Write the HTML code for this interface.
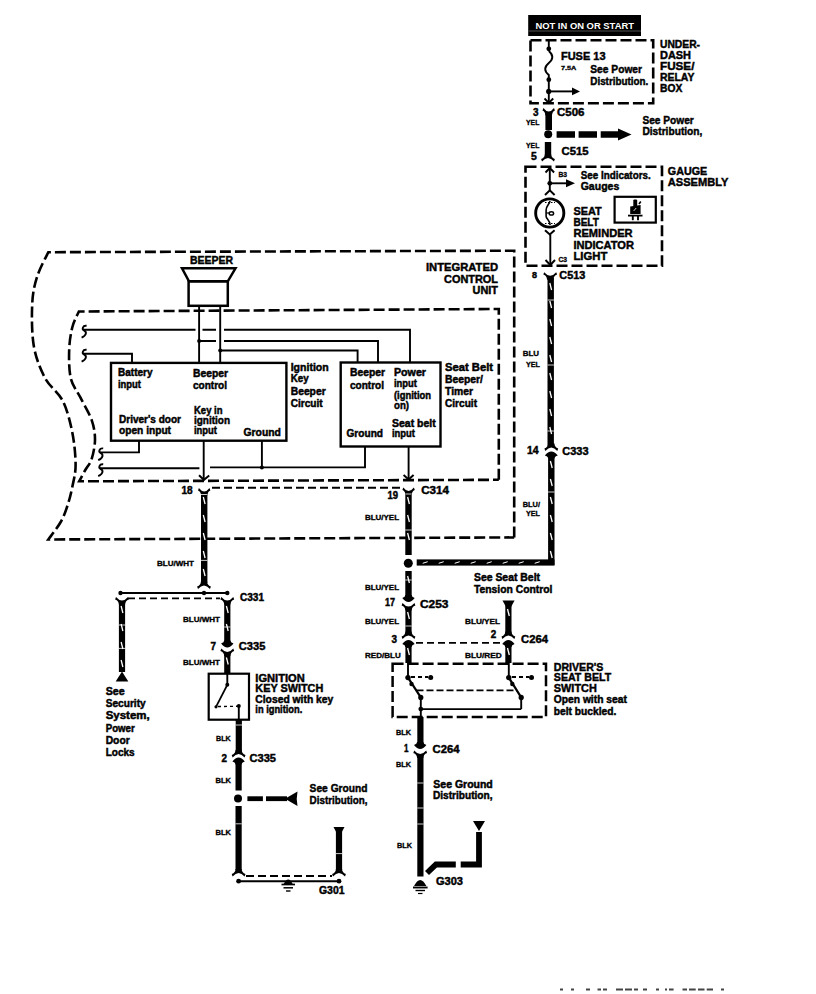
<!DOCTYPE html><html><head><meta charset="utf-8"><style>html,body{margin:0;padding:0;background:#fff;width:816px;height:994px;overflow:hidden}svg{display:block}</style></head><body>
<svg width="816" height="994" viewBox="0 0 816 994" font-family='"Liberation Sans", sans-serif'>
<rect width="816" height="994" fill="#fff"/>
<rect x="528.2" y="15" width="112.8" height="21" stroke="#000" stroke-width="0" fill="#000"/>
<line x1="528.2" y1="31" x2="641" y2="31" stroke="#000" stroke-width="0.6" stroke-linecap="butt"/>
<line x1="528.2" y1="31" x2="641" y2="31" stroke="#777" stroke-width="0.7"/>
<text x="535.4" y="29" font-size="9.5" font-weight="bold" textLength="98.6" lengthAdjust="spacingAndGlyphs" fill="#fff">NOT IN ON OR START</text>
<rect x="530.5" y="40.2" width="122.7" height="63" stroke="#000" stroke-width="2.6" fill="none" stroke-dasharray="11 4"/>
<text x="660" y="47.7" font-size="11" font-weight="bold" textLength="40" lengthAdjust="spacingAndGlyphs" stroke="#000" stroke-width="0.45">UNDER-</text>
<text x="660" y="58.8" font-size="11" font-weight="bold" textLength="31" lengthAdjust="spacingAndGlyphs" stroke="#000" stroke-width="0.45">DASH</text>
<text x="660" y="69.8" font-size="11" font-weight="bold" textLength="34.4" lengthAdjust="spacingAndGlyphs" stroke="#000" stroke-width="0.45">FUSE/</text>
<text x="660" y="80.8" font-size="11" font-weight="bold" textLength="34.4" lengthAdjust="spacingAndGlyphs" stroke="#000" stroke-width="0.45">RELAY</text>
<text x="660" y="92.3" font-size="11" font-weight="bold" textLength="22.3" lengthAdjust="spacingAndGlyphs" stroke="#000" stroke-width="0.45">BOX</text>
<line x1="548.8" y1="40" x2="548.8" y2="51" stroke="#000" stroke-width="1.9" stroke-linecap="butt"/>
<path d="M548.8 51 C553.5 55 553.5 59 548.8 63 C544 67 544 71 548.8 75 L548.8 103" stroke="#000" stroke-width="1.9" fill="none"/>
<circle cx="548.8" cy="48.8" r="2.4" fill="#000"/>
<circle cx="548.8" cy="79.7" r="2.4" fill="#000"/>
<circle cx="548.7" cy="91.4" r="2.6" fill="#000"/>
<line x1="548.8" y1="91.4" x2="573" y2="91.4" stroke="#000" stroke-width="1.9" stroke-linecap="butt"/>
<path d="M572 87.6 L580 91.4 L572 95.2 Z" fill="#000"/>
<path d="M544.5 98.5 L548.8 103 L553.2 98.5" stroke="#000" stroke-width="1.9" fill="none"/>
<text x="561" y="60.3" font-size="11" font-weight="bold" textLength="44.5" lengthAdjust="spacingAndGlyphs" stroke="#000" stroke-width="0.45">FUSE 13</text>
<text x="561" y="69.8" font-size="6" font-weight="bold" textLength="15.4" lengthAdjust="spacingAndGlyphs" stroke="#000" stroke-width="0.3">7.5A</text>
<text x="590.3" y="73" font-size="11" font-weight="bold" textLength="51.7" lengthAdjust="spacingAndGlyphs" stroke="#000" stroke-width="0.45">See Power</text>
<text x="590.3" y="85" font-size="11" font-weight="bold" textLength="58" lengthAdjust="spacingAndGlyphs" stroke="#000" stroke-width="0.45">Distribution.</text>
<path d="M543.4000000000001 108 Q548.7 115 554.0 108 L554.9 110.4 Q552.0 111.8 552.0 115.5 L545.4000000000001 115.5 Q545.4000000000001 111.8 542.5000000000001 110.4 Z" fill="#000"/>
<rect x="545.4000000000001" y="113" width="6.6" height="17" fill="#000"/>
<text x="533" y="116" font-size="10" font-weight="bold" textLength="5.5" lengthAdjust="spacingAndGlyphs" stroke="#000" stroke-width="0.45">3</text>
<text x="557" y="116" font-size="11" font-weight="bold" textLength="27.5" lengthAdjust="spacingAndGlyphs" stroke="#000" stroke-width="0.45">C506</text>
<text x="526" y="124.5" font-size="7" font-weight="bold" textLength="13.4" lengthAdjust="spacingAndGlyphs" stroke="#000" stroke-width="0.3">YEL</text>
<circle cx="548.2" cy="134.3" r="4" fill="#000"/>
<rect x="556.6" y="131.25" width="18.399999999999977" height="6.5" fill="#000"/>
<rect x="578.6" y="131.25" width="18.399999999999977" height="6.5" fill="#000"/>
<rect x="600.7" y="131.25" width="18.299999999999955" height="6.5" fill="#000"/>
<path d="M618 128.5 L631.5 134.5 L618 140.5 Z" fill="#000"/>
<text x="642.4" y="124.4" font-size="11.5" font-weight="bold" textLength="51.4" lengthAdjust="spacingAndGlyphs" stroke="#000" stroke-width="0.45">See Power</text>
<text x="642.4" y="134.8" font-size="11.5" font-weight="bold" textLength="60" lengthAdjust="spacingAndGlyphs" stroke="#000" stroke-width="0.45">Distribution,</text>
<rect x="544.8" y="142" width="6.4" height="14" fill="#000"/>
<path d="M542 161.5 Q548 154.5 554 161.5 L554.9 159.1 Q551.1 157.7 551.1 154.0 L544.9 154.0 Q544.9 157.7 541.1 159.1 Z" fill="#000"/>
<text x="526" y="148.4" font-size="7" font-weight="bold" textLength="13.4" lengthAdjust="spacingAndGlyphs" stroke="#000" stroke-width="0.3">YEL</text>
<text x="531" y="160" font-size="11" font-weight="bold" textLength="5.8" lengthAdjust="spacingAndGlyphs" stroke="#000" stroke-width="0.45">5</text>
<text x="561.5" y="154.5" font-size="11" font-weight="bold" textLength="27" lengthAdjust="spacingAndGlyphs" stroke="#000" stroke-width="0.45">C515</text>
<rect x="525.5" y="166.8" width="136.5" height="99" stroke="#000" stroke-width="2.6" fill="none" stroke-dasharray="11 4"/>
<text x="667.8" y="175.2" font-size="11.5" font-weight="bold" textLength="39.5" lengthAdjust="spacingAndGlyphs" stroke="#000" stroke-width="0.45">GAUGE</text>
<text x="667.8" y="185.7" font-size="11.5" font-weight="bold" textLength="60.6" lengthAdjust="spacingAndGlyphs" stroke="#000" stroke-width="0.45">ASSEMBLY</text>
<path d="M545.5 172.5 L549.8 168 L554.1 172.5" stroke="#000" stroke-width="1.9" fill="none"/>
<line x1="549.8" y1="168" x2="549.8" y2="191" stroke="#000" stroke-width="1.9" stroke-linecap="butt"/>
<circle cx="549.8" cy="183.3" r="2.4" fill="#000"/>
<line x1="549.8" y1="183.3" x2="567" y2="183.3" stroke="#000" stroke-width="1.9" stroke-linecap="butt"/>
<path d="M566 179.3 L575 183.3 L566 187.3 Z" fill="#000"/>
<path d="M545 195 L549.8 190.3 L554.6 195" stroke="#000" stroke-width="2" fill="none"/>
<text x="558.4" y="177" font-size="7" font-weight="bold" textLength="8.6" lengthAdjust="spacingAndGlyphs" stroke="#000" stroke-width="0.3">B3</text>
<text x="580.7" y="179" font-size="11.5" font-weight="bold" textLength="70" lengthAdjust="spacingAndGlyphs" stroke="#000" stroke-width="0.45">See Indicators.</text>
<text x="580.7" y="189.5" font-size="11.5" font-weight="bold" textLength="38.6" lengthAdjust="spacingAndGlyphs" stroke="#000" stroke-width="0.45">Gauges</text>
<circle cx="549.75" cy="213" r="14.1" stroke="#000" stroke-width="2.9" fill="none"/>
<path d="M550.1 201 C549 205 546 206 546.1 210.1 L546.1 216.2 C546 219 550 220 550.1 225" stroke="#000" stroke-width="1.6" fill="none"/>
<ellipse cx="551.4" cy="213.4" rx="2.2" ry="1.7" stroke="#000" stroke-width="1.5" fill="none"/>
<path d="M546.3 213 L549.2 213" stroke="#000" stroke-width="1.2" fill="none"/>
<path d="M545 202.5 L555 202.5 M545 223.5 L555 223.5" stroke="#000" stroke-width="1.2" fill="none" stroke-dasharray="1.5 1.5"/>
<path d="M545 230.3 L549.8 234.5 L554.6 230.3" stroke="#000" stroke-width="2" fill="none"/>
<line x1="550.3" y1="234.5" x2="550.3" y2="265" stroke="#000" stroke-width="1.9" stroke-linecap="butt"/>
<path d="M545.5 260 L550.3 265 L555 260" stroke="#000" stroke-width="1.9" fill="none"/>
<text x="558.4" y="262" font-size="7" font-weight="bold" textLength="8.6" lengthAdjust="spacingAndGlyphs" stroke="#000" stroke-width="0.3">C3</text>
<text x="573.4" y="214.7" font-size="11.5" font-weight="bold" textLength="28.2" lengthAdjust="spacingAndGlyphs" stroke="#000" stroke-width="0.45">SEAT</text>
<text x="573.4" y="226" font-size="11.5" font-weight="bold" textLength="25.5" lengthAdjust="spacingAndGlyphs" stroke="#000" stroke-width="0.45">BELT</text>
<text x="573.4" y="237.2" font-size="11.5" font-weight="bold" textLength="59.2" lengthAdjust="spacingAndGlyphs" stroke="#000" stroke-width="0.45">REMINDER</text>
<text x="573.4" y="248.5" font-size="11.5" font-weight="bold" textLength="60.6" lengthAdjust="spacingAndGlyphs" stroke="#000" stroke-width="0.45">INDICATOR</text>
<text x="573.4" y="259.8" font-size="11.5" font-weight="bold" textLength="34" lengthAdjust="spacingAndGlyphs" stroke="#000" stroke-width="0.45">LIGHT</text>
<rect x="614.6" y="196.8" width="41.2" height="25.8" stroke="#000" stroke-width="2.2" fill="none"/>
<rect x="633.3" y="199.4" width="3.9" height="7" rx="1.2" fill="#000"/>
<path d="M630.2 206.5 L640.6 205 L640.6 214 L630.2 214 Z" stroke="#000" stroke-width="0" fill="#000"/>
<line x1="639" y1="204" x2="640.8" y2="201.5" stroke="#000" stroke-width="1.6" stroke-linecap="butt"/>
<line x1="633.6" y1="211" x2="636.2" y2="208" stroke="#fff" stroke-width="0.8"/>
<line x1="628" y1="215.6" x2="642.5" y2="215.6" stroke="#000" stroke-width="1.8" stroke-linecap="butt"/>
<line x1="632.8" y1="215" x2="632.8" y2="220.2" stroke="#000" stroke-width="1.9" stroke-linecap="butt"/>
<line x1="638" y1="215" x2="638" y2="220.2" stroke="#000" stroke-width="1.9" stroke-linecap="butt"/>
<path d="M544.2 272.2 Q550.2 279.2 556.2 272.2 L557.1 274.59999999999997 Q553.4000000000001 276.0 553.4000000000001 279.7 L547.0 279.7 Q547.0 276.0 543.3000000000001 274.59999999999997 Z" fill="#000"/>
<text x="532" y="277.5" font-size="9" font-weight="bold" textLength="5" lengthAdjust="spacingAndGlyphs" stroke="#000" stroke-width="0.45">8</text>
<text x="559.3" y="279" font-size="11" font-weight="bold" textLength="26" lengthAdjust="spacingAndGlyphs" stroke="#000" stroke-width="0.45">C513</text>
<rect x="547.5" y="278" width="6.4" height="168" fill="#000"/>
<line x1="549.8000000000001" y1="283" x2="551.6" y2="290" stroke="#fff" stroke-width="1.3"/>
<line x1="549.8000000000001" y1="301" x2="551.6" y2="308" stroke="#fff" stroke-width="1.3"/>
<line x1="549.8000000000001" y1="319" x2="551.6" y2="326" stroke="#fff" stroke-width="1.3"/>
<line x1="549.8000000000001" y1="337" x2="551.6" y2="344" stroke="#fff" stroke-width="1.3"/>
<line x1="549.8000000000001" y1="355" x2="551.6" y2="362" stroke="#fff" stroke-width="1.3"/>
<line x1="549.8000000000001" y1="373" x2="551.6" y2="380" stroke="#fff" stroke-width="1.3"/>
<line x1="549.8000000000001" y1="391" x2="551.6" y2="398" stroke="#fff" stroke-width="1.3"/>
<line x1="549.8000000000001" y1="409" x2="551.6" y2="416" stroke="#fff" stroke-width="1.3"/>
<line x1="549.8000000000001" y1="427" x2="551.6" y2="434" stroke="#fff" stroke-width="1.3"/>
<line x1="547.5" y1="300" x2="553.9000000000001" y2="300" stroke="#fff" stroke-width="0.8"/>
<line x1="547.5" y1="365" x2="553.9000000000001" y2="365" stroke="#fff" stroke-width="0.8"/>
<line x1="547.5" y1="431" x2="553.9000000000001" y2="431" stroke="#fff" stroke-width="0.8"/>
<path d="M545.3 451 Q551.3 444 557.3 451 L558.1999999999999 448.6 Q554.5 447.2 554.5 443.5 L548.0999999999999 443.5 Q548.0999999999999 447.2 544.4 448.6 Z" fill="#000"/>
<path d="M548.0999999999999 458.5 Q548.0999999999999 456.5 544.8 455.5 Q551.3 447.5 557.8 455.5 Q554.5 456.5 554.5 458.5 Z" fill="#000"/>
<rect x="548.0999999999999" y="456" width="6.4" height="109" fill="#000"/>
<line x1="550.4" y1="461" x2="552.1999999999999" y2="468" stroke="#fff" stroke-width="1.3"/>
<line x1="550.4" y1="479" x2="552.1999999999999" y2="486" stroke="#fff" stroke-width="1.3"/>
<line x1="550.4" y1="497" x2="552.1999999999999" y2="504" stroke="#fff" stroke-width="1.3"/>
<line x1="550.4" y1="515" x2="552.1999999999999" y2="522" stroke="#fff" stroke-width="1.3"/>
<line x1="550.4" y1="533" x2="552.1999999999999" y2="540" stroke="#fff" stroke-width="1.3"/>
<line x1="550.4" y1="551" x2="552.1999999999999" y2="558" stroke="#fff" stroke-width="1.3"/>
<line x1="548.0999999999999" y1="492" x2="554.5" y2="492" stroke="#fff" stroke-width="0.8"/>
<text x="527" y="454.4" font-size="10.5" font-weight="bold" textLength="11.7" lengthAdjust="spacingAndGlyphs" stroke="#000" stroke-width="0.45">14</text>
<text x="562.3" y="455.3" font-size="11" font-weight="bold" textLength="26.2" lengthAdjust="spacingAndGlyphs" stroke="#000" stroke-width="0.45">C333</text>
<text x="522.7" y="355.7" font-size="7" font-weight="bold" textLength="16.3" lengthAdjust="spacingAndGlyphs" stroke="#000" stroke-width="0.3">BLU</text>
<text x="526" y="366.7" font-size="7" font-weight="bold" textLength="14" lengthAdjust="spacingAndGlyphs" stroke="#000" stroke-width="0.3">YEL</text>
<text x="522.7" y="507" font-size="7" font-weight="bold" textLength="17.3" lengthAdjust="spacingAndGlyphs" stroke="#000" stroke-width="0.3">BLU/</text>
<text x="526" y="516.3" font-size="7" font-weight="bold" textLength="14" lengthAdjust="spacingAndGlyphs" stroke="#000" stroke-width="0.3">YEL</text>
<rect x="416.7" y="559.4" width="137.8" height="6.2" fill="#000"/>
<line x1="422.7" y1="563.3" x2="427.7" y2="561.7" stroke="#fff" stroke-width="1"/>
<line x1="438.7" y1="563.3" x2="443.7" y2="561.7" stroke="#fff" stroke-width="1"/>
<line x1="454.7" y1="563.3" x2="459.7" y2="561.7" stroke="#fff" stroke-width="1"/>
<line x1="470.7" y1="563.3" x2="475.7" y2="561.7" stroke="#fff" stroke-width="1"/>
<line x1="486.7" y1="563.3" x2="491.7" y2="561.7" stroke="#fff" stroke-width="1"/>
<line x1="502.7" y1="563.3" x2="507.7" y2="561.7" stroke="#fff" stroke-width="1"/>
<line x1="518.7" y1="563.3" x2="523.7" y2="561.7" stroke="#fff" stroke-width="1"/>
<line x1="534.7" y1="563.3" x2="539.7" y2="561.7" stroke="#fff" stroke-width="1"/>
<path d="M514.2 537.4 L514.2 250.7 L48.3 252.2  C46.4 256.3 39.7 268.3 37 277 C34.3 285.7 32.7 292.9 32.2 304.4 C31.7 315.9 31.7 333.7 33.8 346 C35.9 358.3 40.2 368.8 45 378 C49.8 387.2 58.2 391.8 62.8 401 C67.4 410.2 70.3 422.3 72.4 433 C74.5 443.7 75.6 456.2 75.6 465 C75.6 473.8 73.8 479.5 72.5 486 C71.2 492.5 69.9 498.1 68 504 C66.1 509.9 64.3 515.6 61 521.5 C57.7 527.4 50.4 536.5 48.3 539.5 L514.2 537.4" stroke="#000" stroke-width="2.6" fill="none" stroke-dasharray="11 4"/>
<text x="498" y="271.4" font-size="11" font-weight="bold" textLength="72" lengthAdjust="spacingAndGlyphs" text-anchor="end" stroke="#000" stroke-width="0.45">INTEGRATED</text>
<text x="498" y="282.6" font-size="11" font-weight="bold" textLength="54" lengthAdjust="spacingAndGlyphs" text-anchor="end" stroke="#000" stroke-width="0.45">CONTROL</text>
<text x="498" y="293.7" font-size="11" font-weight="bold" textLength="25.4" lengthAdjust="spacingAndGlyphs" text-anchor="end" stroke="#000" stroke-width="0.45">UNIT</text>
<path d="M498.8 479.8 L498.8 309 L78.9 311.5  C77.8 314.1 74.0 320.7 72.4 327 C70.8 333.3 69.5 340.8 69.2 349.4 C68.9 358.0 68.9 370.3 70.8 378.4 C72.7 386.4 77.0 390.7 80.5 397.7 C84.0 404.7 89.3 413.2 91.7 420.2 C94.1 427.2 95.0 433.1 95 439.5 C95.0 445.9 93.3 453.8 91.7 458.9 C90.1 464.0 87.4 466.3 85.3 470 C83.2 473.7 80.2 479.4 79.2 481.3 L498.8 479.8" stroke="#000" stroke-width="2.6" fill="none" stroke-dasharray="11 4"/>
<text x="190" y="263.6" font-size="11" font-weight="bold" textLength="43" lengthAdjust="spacingAndGlyphs" stroke="#000" stroke-width="0.45">BEEPER</text>
<path d="M182 268.3 L235.5 268.3 L227.8 281.3 L189 281.3 Z" stroke="#000" stroke-width="2.5" fill="none"/>
<rect x="188.6" y="281.3" width="39.2" height="24.5" stroke="#000" stroke-width="2.5" fill="none"/>
<line x1="199.1" y1="306" x2="199.1" y2="363" stroke="#000" stroke-width="1.9" stroke-linecap="butt"/>
<line x1="220.2" y1="306" x2="220.2" y2="363" stroke="#000" stroke-width="1.9" stroke-linecap="butt"/>
<path d="M86.60000000000001 325.8 C82.4 325.3 81.9 329.3 83.9 330.3 C86.9 331.8 86.9 335.3 81.60000000000001 337.6" stroke="#000" stroke-width="1.9" fill="none"/>
<path d="M86.60000000000001 349.8 C82.4 349.3 81.9 353.3 83.9 354.3 C86.9 355.8 86.9 359.3 81.60000000000001 361.6" stroke="#000" stroke-width="1.9" fill="none"/>
<path d="M103.2 448.4 C99 447.9 98.5 451.9 100.5 452.9 C103.5 454.4 103.5 457.9 98.2 460.2" stroke="#000" stroke-width="1.9" fill="none"/>
<path d="M103.2 464.3 C99 463.8 98.5 467.8 100.5 468.8 C103.5 470.3 103.5 473.8 98.2 476.1" stroke="#000" stroke-width="1.9" fill="none"/>
<path d="M83.4 329.8 L195.5 329.8 M202.5 329.8 L216 329.8 M224 329.8 L410 329.8 L410 362" stroke="#000" stroke-width="1.9" fill="none"/>
<path d="M199.1 341 L216 341 M224 341 L378 341 L378 362" stroke="#000" stroke-width="1.9" fill="none"/>
<circle cx="199.1" cy="341" r="2" fill="#000"/>
<path d="M220.2 350.5 L357.6 350.5 L357.6 362" stroke="#000" stroke-width="1.9" fill="none"/>
<circle cx="220.2" cy="350.5" r="2" fill="#000"/>
<path d="M83.4 353.8 L132 353.8 L132 363" stroke="#000" stroke-width="1.9" fill="none"/>
<rect x="111" y="362.9" width="175.4" height="77.8" stroke="#000" stroke-width="2.4" fill="none"/>
<text x="118" y="375.5" font-size="10" font-weight="bold" textLength="34.5" lengthAdjust="spacingAndGlyphs" stroke="#000" stroke-width="0.45">Battery</text>
<text x="118" y="387.5" font-size="10" font-weight="bold" textLength="23" lengthAdjust="spacingAndGlyphs" stroke="#000" stroke-width="0.45">input</text>
<text x="193" y="377" font-size="10" font-weight="bold" textLength="35" lengthAdjust="spacingAndGlyphs" stroke="#000" stroke-width="0.45">Beeper</text>
<text x="193" y="388.6" font-size="10" font-weight="bold" textLength="34" lengthAdjust="spacingAndGlyphs" stroke="#000" stroke-width="0.45">control</text>
<text x="194" y="413.5" font-size="10" font-weight="bold" textLength="28.5" lengthAdjust="spacingAndGlyphs" stroke="#000" stroke-width="0.45">Key in</text>
<text x="194" y="423.5" font-size="10" font-weight="bold" textLength="36" lengthAdjust="spacingAndGlyphs" stroke="#000" stroke-width="0.45">ignition</text>
<text x="194" y="434" font-size="10" font-weight="bold" textLength="23" lengthAdjust="spacingAndGlyphs" stroke="#000" stroke-width="0.45">input</text>
<text x="119" y="423.3" font-size="10" font-weight="bold" textLength="62" lengthAdjust="spacingAndGlyphs" stroke="#000" stroke-width="0.45">Driver's door</text>
<text x="119" y="433.5" font-size="10" font-weight="bold" textLength="52" lengthAdjust="spacingAndGlyphs" stroke="#000" stroke-width="0.45">open input</text>
<text x="243.5" y="436.4" font-size="10" font-weight="bold" textLength="37.4" lengthAdjust="spacingAndGlyphs" stroke="#000" stroke-width="0.45">Ground</text>
<text x="290.7" y="370.5" font-size="10" font-weight="bold" textLength="38" lengthAdjust="spacingAndGlyphs" stroke="#000" stroke-width="0.45">Ignition</text>
<text x="290.7" y="382" font-size="10" font-weight="bold" textLength="18" lengthAdjust="spacingAndGlyphs" stroke="#000" stroke-width="0.45">Key</text>
<text x="290.7" y="394.7" font-size="10" font-weight="bold" textLength="35" lengthAdjust="spacingAndGlyphs" stroke="#000" stroke-width="0.45">Beeper</text>
<text x="290.7" y="407" font-size="10" font-weight="bold" textLength="32" lengthAdjust="spacingAndGlyphs" stroke="#000" stroke-width="0.45">Circuit</text>
<rect x="340.7" y="362.5" width="99.8" height="84" stroke="#000" stroke-width="2.4" fill="none"/>
<text x="350" y="375.5" font-size="10" font-weight="bold" textLength="35" lengthAdjust="spacingAndGlyphs" stroke="#000" stroke-width="0.45">Beeper</text>
<text x="350" y="388.5" font-size="10" font-weight="bold" textLength="34" lengthAdjust="spacingAndGlyphs" stroke="#000" stroke-width="0.45">control</text>
<text x="394" y="376" font-size="10" font-weight="bold" textLength="32" lengthAdjust="spacingAndGlyphs" stroke="#000" stroke-width="0.45">Power</text>
<text x="394" y="387" font-size="10" font-weight="bold" textLength="23" lengthAdjust="spacingAndGlyphs" stroke="#000" stroke-width="0.45">input</text>
<text x="394" y="398.5" font-size="10" font-weight="bold" textLength="37" lengthAdjust="spacingAndGlyphs" stroke="#000" stroke-width="0.45">(ignition</text>
<text x="394" y="409" font-size="10" font-weight="bold" textLength="15" lengthAdjust="spacingAndGlyphs" stroke="#000" stroke-width="0.45">on)</text>
<text x="392" y="426.5" font-size="10" font-weight="bold" textLength="43.7" lengthAdjust="spacingAndGlyphs" stroke="#000" stroke-width="0.45">Seat belt</text>
<text x="392" y="436.5" font-size="10" font-weight="bold" textLength="23" lengthAdjust="spacingAndGlyphs" stroke="#000" stroke-width="0.45">input</text>
<text x="346.5" y="437.3" font-size="10" font-weight="bold" textLength="36.5" lengthAdjust="spacingAndGlyphs" stroke="#000" stroke-width="0.45">Ground</text>
<text x="445" y="371" font-size="10" font-weight="bold" textLength="48" lengthAdjust="spacingAndGlyphs" stroke="#000" stroke-width="0.45">Seat Belt</text>
<text x="445" y="383" font-size="10" font-weight="bold" textLength="38" lengthAdjust="spacingAndGlyphs" stroke="#000" stroke-width="0.45">Beeper/</text>
<text x="445" y="395" font-size="10" font-weight="bold" textLength="28" lengthAdjust="spacingAndGlyphs" stroke="#000" stroke-width="0.45">Timer</text>
<text x="445" y="407" font-size="10" font-weight="bold" textLength="32" lengthAdjust="spacingAndGlyphs" stroke="#000" stroke-width="0.45">Circuit</text>
<path d="M139 440.7 L139 452.4 L100 452.4" stroke="#000" stroke-width="1.9" fill="none"/>
<path d="M100 468.3 L199.4 468.3" stroke="#000" stroke-width="1.9" fill="none"/>
<path d="M210 467.4 L365 467.4 L365 446.5" stroke="#000" stroke-width="1.9" fill="none"/>
<line x1="203.7" y1="440.7" x2="203.7" y2="480" stroke="#000" stroke-width="1.9" stroke-linecap="butt"/>
<line x1="261.9" y1="440.7" x2="261.9" y2="467.4" stroke="#000" stroke-width="1.9" stroke-linecap="butt"/>
<circle cx="261.9" cy="467.4" r="2" fill="#000"/>
<path d="M199 475.2 L203.9 479.8 L209.2 475.5" stroke="#000" stroke-width="2" fill="none"/>
<line x1="408.6" y1="446.5" x2="408.6" y2="480" stroke="#000" stroke-width="1.9" stroke-linecap="butt"/>
<path d="M403.6 475 L408.6 479.5 L413.6 475" stroke="#000" stroke-width="2" fill="none"/>
<line x1="212" y1="487.8" x2="403" y2="487.8" stroke="#000" stroke-width="2" stroke-dasharray="8 4" stroke-linecap="butt"/>
<text x="181.5" y="494.3" font-size="10.5" font-weight="bold" textLength="11.2" lengthAdjust="spacingAndGlyphs" stroke="#000" stroke-width="0.45">18</text>
<text x="387.5" y="499" font-size="10" font-weight="bold" textLength="10.6" lengthAdjust="spacingAndGlyphs" stroke="#000" stroke-width="0.45">19</text>
<text x="421.2" y="493.8" font-size="10.5" font-weight="bold" textLength="27.8" lengthAdjust="spacingAndGlyphs" stroke="#000" stroke-width="0.45">C314</text>
<path d="M198.89999999999998 488 Q204.2 495 209.5 488 L210.4 490.4 Q207.29999999999998 491.8 207.29999999999998 495.5 L201.1 495.5 Q201.1 491.8 197.99999999999997 490.4 Z" fill="#000"/>
<path d="M403.3 487.5 Q408.6 494.5 413.90000000000003 487.5 L414.8 489.9 Q411.70000000000005 491.3 411.70000000000005 495.0 L405.5 495.0 Q405.5 491.3 402.40000000000003 489.9 Z" fill="#000"/>
<rect x="201.0" y="492" width="6.4" height="91" fill="#000"/>
<line x1="203.29999999999998" y1="497" x2="205.1" y2="504" stroke="#fff" stroke-width="1.3"/>
<line x1="203.29999999999998" y1="515" x2="205.1" y2="522" stroke="#fff" stroke-width="1.3"/>
<line x1="203.29999999999998" y1="533" x2="205.1" y2="540" stroke="#fff" stroke-width="1.3"/>
<line x1="203.29999999999998" y1="551" x2="205.1" y2="558" stroke="#fff" stroke-width="1.3"/>
<line x1="203.29999999999998" y1="569" x2="205.1" y2="576" stroke="#fff" stroke-width="1.3"/>
<line x1="201.0" y1="494.5" x2="207.39999999999998" y2="494.5" stroke="#fff" stroke-width="0.8"/>
<line x1="201.0" y1="560.4" x2="207.39999999999998" y2="560.4" stroke="#fff" stroke-width="0.8"/>
<path d="M198 589 Q204 582 210 589 L210.9 586.6 Q207.1 585.2 207.1 581.5 L200.9 581.5 Q200.9 585.2 197.1 586.6 Z" fill="#000"/>
<text x="157" y="566" font-size="6.5" font-weight="bold" textLength="37" lengthAdjust="spacingAndGlyphs" stroke="#000" stroke-width="0.3">BLU/WHT</text>
<line x1="120.5" y1="593" x2="227.3" y2="593" stroke="#000" stroke-width="1.9" stroke-linecap="butt"/>
<circle cx="120.5" cy="593" r="2.2" fill="#000"/>
<circle cx="204" cy="593" r="2.2" fill="#000"/>
<circle cx="227.3" cy="593" r="2.2" fill="#000"/>
<line x1="128" y1="598.4" x2="220" y2="598.4" stroke="#000" stroke-width="1.8" stroke-dasharray="7 4" stroke-linecap="butt"/>
<path d="M116 597 Q122 604 128 597 L128.9 599.4 Q125.1 600.8 125.1 604.5 L118.9 604.5 Q118.9 600.8 115.1 599.4 Z" fill="#000"/>
<path d="M221.3 597 Q227.3 604 233.3 597 L234.20000000000002 599.4 Q230.4 600.8 230.4 604.5 L224.20000000000002 604.5 Q224.20000000000002 600.8 220.4 599.4 Z" fill="#000"/>
<text x="240" y="601" font-size="10" font-weight="bold" textLength="24" lengthAdjust="spacingAndGlyphs" stroke="#000" stroke-width="0.45">C331</text>
<rect x="118.9" y="601" width="6.2" height="71" fill="#000"/>
<line x1="121.1" y1="606" x2="122.9" y2="613" stroke="#fff" stroke-width="1.3"/>
<line x1="121.1" y1="624" x2="122.9" y2="631" stroke="#fff" stroke-width="1.3"/>
<line x1="121.1" y1="642" x2="122.9" y2="649" stroke="#fff" stroke-width="1.3"/>
<line x1="121.1" y1="660" x2="122.9" y2="667" stroke="#fff" stroke-width="1.3"/>
<line x1="118.9" y1="625" x2="125.1" y2="625" stroke="#fff" stroke-width="0.8"/>
<line x1="118.9" y1="648.4" x2="125.1" y2="648.4" stroke="#fff" stroke-width="0.8"/>
<path d="M115.7 681.5 L122 671.5 L128.3 681.5 Z" fill="#000"/>
<text x="105.7" y="695.0" font-size="10" font-weight="bold" textLength="19" lengthAdjust="spacingAndGlyphs" stroke="#000" stroke-width="0.45">See</text>
<text x="105.7" y="707.2" font-size="10" font-weight="bold" textLength="40" lengthAdjust="spacingAndGlyphs" stroke="#000" stroke-width="0.45">Security</text>
<text x="105.7" y="719.4" font-size="10" font-weight="bold" textLength="44" lengthAdjust="spacingAndGlyphs" stroke="#000" stroke-width="0.45">System,</text>
<text x="105.7" y="731.6" font-size="10" font-weight="bold" textLength="29" lengthAdjust="spacingAndGlyphs" stroke="#000" stroke-width="0.45">Power</text>
<text x="105.7" y="743.8" font-size="10" font-weight="bold" textLength="24" lengthAdjust="spacingAndGlyphs" stroke="#000" stroke-width="0.45">Door</text>
<text x="105.7" y="756.0" font-size="10" font-weight="bold" textLength="29" lengthAdjust="spacingAndGlyphs" stroke="#000" stroke-width="0.45">Locks</text>
<rect x="224.20000000000002" y="601" width="6.2" height="42" fill="#000"/>
<line x1="226.4" y1="606" x2="228.20000000000002" y2="613" stroke="#fff" stroke-width="1.3"/>
<line x1="226.4" y1="624" x2="228.20000000000002" y2="631" stroke="#fff" stroke-width="1.3"/>
<line x1="224.20000000000002" y1="627" x2="230.4" y2="627" stroke="#fff" stroke-width="0.8"/>
<text x="183" y="622" font-size="6.5" font-weight="bold" textLength="37" lengthAdjust="spacingAndGlyphs" stroke="#000" stroke-width="0.3">BLU/WHT</text>
<path d="M224.20000000000002 640.5 Q224.20000000000002 642.5 221.10000000000002 643.5 Q227.3 651.5 233.5 643.5 Q230.4 642.5 230.4 640.5 Z" fill="#000"/>
<path d="M221.3 648.5 Q227.3 655.5 233.3 648.5 L234.20000000000002 650.9 Q230.4 652.3 230.4 656.0 L224.20000000000002 656.0 Q224.20000000000002 652.3 220.4 650.9 Z" fill="#000"/>
<text x="210.5" y="650" font-size="10" font-weight="bold" textLength="5.5" lengthAdjust="spacingAndGlyphs" stroke="#000" stroke-width="0.45">7</text>
<text x="238.8" y="649.7" font-size="11" font-weight="bold" textLength="26.5" lengthAdjust="spacingAndGlyphs" stroke="#000" stroke-width="0.45">C335</text>
<rect x="224.20000000000002" y="652.5" width="6.2" height="21.200000000000045" fill="#000"/>
<line x1="226.4" y1="657.5" x2="228.20000000000002" y2="664.5" stroke="#fff" stroke-width="1.3"/>
<text x="183" y="665" font-size="6.5" font-weight="bold" textLength="37" lengthAdjust="spacingAndGlyphs" stroke="#000" stroke-width="0.3">BLU/WHT</text>
<rect x="208.7" y="673.7" width="40.3" height="46" stroke="#000" stroke-width="2.2" fill="none"/>
<line x1="227.3" y1="673.7" x2="227.3" y2="684.8" stroke="#000" stroke-width="1.9" stroke-linecap="butt"/>
<circle cx="227.3" cy="684.8" r="2" fill="#000"/>
<line x1="227.3" y1="684.8" x2="216" y2="706.8" stroke="#000" stroke-width="1.8" stroke-linecap="butt"/>
<circle cx="216" cy="706.8" r="1.6" fill="#000"/>
<line x1="218" y1="706.5" x2="237" y2="706.3" stroke="#000" stroke-width="1.4" stroke-dasharray="3 3" stroke-linecap="butt"/>
<circle cx="238.8" cy="706" r="2" fill="#000"/>
<text x="255.3" y="681.5" font-size="11" font-weight="bold" textLength="49.5" lengthAdjust="spacingAndGlyphs" stroke="#000" stroke-width="0.45">IGNITION</text>
<text x="255.3" y="692.4" font-size="11" font-weight="bold" textLength="68" lengthAdjust="spacingAndGlyphs" stroke="#000" stroke-width="0.45">KEY SWITCH</text>
<text x="255.3" y="703.2" font-size="10" font-weight="bold" textLength="78" lengthAdjust="spacingAndGlyphs" stroke="#000" stroke-width="0.45">Closed with key</text>
<text x="255.3" y="713" font-size="10" font-weight="bold" textLength="47" lengthAdjust="spacingAndGlyphs" stroke="#000" stroke-width="0.45">in ignition.</text>
<line x1="238.8" y1="706" x2="238.8" y2="720" stroke="#000" stroke-width="1.9" stroke-linecap="butt"/>
<rect x="235.70000000000002" y="720" width="6.2" height="33" fill="#000"/>
<line x1="235.70000000000002" y1="725" x2="241.9" y2="725" stroke="#fff" stroke-width="0.8"/>
<text x="216" y="740.7" font-size="6.5" font-weight="bold" textLength="14.7" lengthAdjust="spacingAndGlyphs" stroke="#000" stroke-width="0.3">BLK</text>
<path d="M232.6 757.5 Q238.6 750.5 244.6 757.5 L245.5 755.1 Q241.7 753.7 241.7 750.0 L235.5 750.0 Q235.5 753.7 231.7 755.1 Z" fill="#000"/>
<path d="M235.5 764.5 Q235.5 762.5 232.4 761.5 Q238.6 753.5 244.79999999999998 761.5 Q241.7 762.5 241.7 764.5 Z" fill="#000"/>
<text x="221.5" y="762" font-size="10" font-weight="bold" textLength="5.5" lengthAdjust="spacingAndGlyphs" stroke="#000" stroke-width="0.45">2</text>
<text x="249.6" y="762" font-size="11" font-weight="bold" textLength="26.4" lengthAdjust="spacingAndGlyphs" stroke="#000" stroke-width="0.45">C335</text>
<rect x="235.5" y="763" width="6.2" height="27.5" fill="#000"/>
<text x="215.5" y="783" font-size="6.5" font-weight="bold" textLength="15.5" lengthAdjust="spacingAndGlyphs" stroke="#000" stroke-width="0.3">BLK</text>
<circle cx="238" cy="798.5" r="4" fill="#000"/>
<rect x="235.5" y="806" width="6.2" height="64" fill="#000"/>
<line x1="235.5" y1="823.8" x2="241.7" y2="823.8" stroke="#fff" stroke-width="0.8"/>
<path d="M232.6 876.5 Q238.6 869.5 244.6 876.5 L245.5 874.1 Q241.7 872.7 241.7 869.0 L235.5 869.0 Q235.5 872.7 231.7 874.1 Z" fill="#000"/>
<rect x="247.4" y="796.3000000000001" width="15.499999999999972" height="4.8" fill="#000"/>
<rect x="266" y="796.3000000000001" width="21" height="4.8" fill="#000"/>
<path d="M297.5 791.5 L285 798.7 L297.5 805.9 Q296 798.7 297.5 791.5 Z" fill="#000"/>
<text x="309.6" y="791.8" font-size="11.5" font-weight="bold" textLength="58" lengthAdjust="spacingAndGlyphs" stroke="#000" stroke-width="0.45">See Ground</text>
<text x="309.6" y="803.8" font-size="11.5" font-weight="bold" textLength="58" lengthAdjust="spacingAndGlyphs" stroke="#000" stroke-width="0.45">Distribution,</text>
<text x="215.5" y="834.5" font-size="6.5" font-weight="bold" textLength="15.5" lengthAdjust="spacingAndGlyphs" stroke="#000" stroke-width="0.3">BLK</text>
<path d="M333.5 827 L344.5 827 L339 837.5 Z" fill="#000"/>
<rect x="335.9" y="831" width="6.2" height="39" fill="#000"/>
<line x1="335.9" y1="853.6" x2="342.1" y2="853.6" stroke="#fff" stroke-width="0.8"/>
<path d="M333 876.5 Q339 869.5 345 876.5 L345.9 874.1 Q342.1 872.7 342.1 869.0 L335.9 869.0 Q335.9 872.7 332.1 874.1 Z" fill="#000"/>
<line x1="246" y1="876" x2="332" y2="876" stroke="#000" stroke-width="1.9" stroke-dasharray="8 4" stroke-linecap="butt"/>
<line x1="238.6" y1="881.2" x2="339" y2="881.2" stroke="#000" stroke-width="1.9" stroke-linecap="butt"/>
<circle cx="238.6" cy="881.2" r="2.4" fill="#000"/>
<circle cx="339" cy="881.2" r="2.4" fill="#000"/>
<path d="M283.5 884.5 Q288.2 874.5 292.9 884.5 Z" fill="#000"/>
<line x1="281.5" y1="884.5" x2="295" y2="884.5" stroke="#000" stroke-width="1.7" stroke-linecap="butt"/>
<line x1="283.5" y1="887.8" x2="293" y2="887.8" stroke="#000" stroke-width="1.5" stroke-linecap="butt"/>
<line x1="286" y1="891" x2="290.5" y2="891" stroke="#000" stroke-width="1.4" stroke-linecap="butt"/>
<text x="319" y="894.4" font-size="10.5" font-weight="bold" textLength="25.5" lengthAdjust="spacingAndGlyphs" stroke="#000" stroke-width="0.45">G301</text>
<rect x="405.3" y="492" width="6.4" height="63" fill="#000"/>
<line x1="407.6" y1="497" x2="409.4" y2="504" stroke="#fff" stroke-width="1.3"/>
<line x1="407.6" y1="515" x2="409.4" y2="522" stroke="#fff" stroke-width="1.3"/>
<line x1="407.6" y1="533" x2="409.4" y2="540" stroke="#fff" stroke-width="1.3"/>
<line x1="405.3" y1="494" x2="411.7" y2="494" stroke="#fff" stroke-width="0.8"/>
<line x1="405.3" y1="530" x2="411.7" y2="530" stroke="#fff" stroke-width="0.8"/>
<text x="365" y="519.6" font-size="6.5" font-weight="bold" textLength="34" lengthAdjust="spacingAndGlyphs" stroke="#000" stroke-width="0.3">BLU/YEL</text>
<circle cx="408.3" cy="563.3" r="4.5" fill="#000"/>
<rect x="405.3" y="571" width="6.4" height="27" fill="#000"/>
<line x1="407.6" y1="576" x2="409.4" y2="583" stroke="#fff" stroke-width="1.3"/>
<line x1="405.3" y1="580" x2="411.7" y2="580" stroke="#fff" stroke-width="0.8"/>
<text x="365" y="590" font-size="6.5" font-weight="bold" textLength="34" lengthAdjust="spacingAndGlyphs" stroke="#000" stroke-width="0.3">BLU/YEL</text>
<path d="M405.4 595 Q405.4 597 402.3 598 Q408.5 606 414.7 598 Q411.6 597 411.6 595 Z" fill="#000"/>
<path d="M402.5 603 Q408.5 610 414.5 603 L415.4 605.4 Q411.6 606.8 411.6 610.5 L405.4 610.5 Q405.4 606.8 401.6 605.4 Z" fill="#000"/>
<text x="385" y="606" font-size="10" font-weight="bold" textLength="10" lengthAdjust="spacingAndGlyphs" stroke="#000" stroke-width="0.45">17</text>
<text x="420" y="608" font-size="11" font-weight="bold" textLength="28.5" lengthAdjust="spacingAndGlyphs" stroke="#000" stroke-width="0.45">C253</text>
<rect x="405.4" y="607" width="6.2" height="28" fill="#000"/>
<line x1="407.6" y1="612" x2="409.4" y2="619" stroke="#fff" stroke-width="1.3"/>
<line x1="405.4" y1="626" x2="411.6" y2="626" stroke="#fff" stroke-width="0.8"/>
<text x="365" y="624" font-size="6.5" font-weight="bold" textLength="34" lengthAdjust="spacingAndGlyphs" stroke="#000" stroke-width="0.3">BLU/YEL</text>
<path d="M402.5 639 Q408.5 632 414.5 639 L415.4 636.6 Q411.6 635.2 411.6 631.5 L405.4 631.5 Q405.4 635.2 401.6 636.6 Z" fill="#000"/>
<path d="M405.4 647 Q405.4 645 402.3 644 Q408.5 636 414.7 644 Q411.6 645 411.6 647 Z" fill="#000"/>
<rect x="405.4" y="643" width="6.2" height="20" fill="#000"/>
<line x1="407.6" y1="648" x2="409.4" y2="655" stroke="#fff" stroke-width="1.3"/>
<text x="391.5" y="643" font-size="10" font-weight="bold" textLength="5.5" lengthAdjust="spacingAndGlyphs" stroke="#000" stroke-width="0.45">3</text>
<line x1="416" y1="642.8" x2="500" y2="642.8" stroke="#000" stroke-width="1.8" stroke-dasharray="7 4" stroke-linecap="butt"/>
<text x="365" y="658" font-size="6.5" font-weight="bold" textLength="35.7" lengthAdjust="spacingAndGlyphs" stroke="#000" stroke-width="0.3">RED/BLU</text>
<text x="474" y="581" font-size="10" font-weight="bold" textLength="66" lengthAdjust="spacingAndGlyphs" stroke="#000" stroke-width="0.45">See Seat Belt</text>
<text x="474" y="593" font-size="10" font-weight="bold" textLength="78.5" lengthAdjust="spacingAndGlyphs" stroke="#000" stroke-width="0.45">Tension Control</text>
<path d="M502.5 600.5 L514.6 600.5 L508.5 611.5 Z" fill="#000"/>
<rect x="505.29999999999995" y="604" width="6.2" height="31" fill="#000"/>
<line x1="507.5" y1="609" x2="509.29999999999995" y2="616" stroke="#fff" stroke-width="1.3"/>
<text x="465" y="624" font-size="6.5" font-weight="bold" textLength="35" lengthAdjust="spacingAndGlyphs" stroke="#000" stroke-width="0.3">BLU/YEL</text>
<path d="M502.4 639 Q508.4 632 514.4 639 L515.3 636.6 Q511.5 635.2 511.5 631.5 L505.29999999999995 631.5 Q505.29999999999995 635.2 501.5 636.6 Z" fill="#000"/>
<path d="M505.29999999999995 647 Q505.29999999999995 645 502.2 644 Q508.4 636 514.6 644 Q511.5 645 511.5 647 Z" fill="#000"/>
<rect x="505.29999999999995" y="643" width="6.2" height="20" fill="#000"/>
<line x1="507.5" y1="648" x2="509.29999999999995" y2="655" stroke="#fff" stroke-width="1.3"/>
<text x="490.7" y="638" font-size="10" font-weight="bold" textLength="5.5" lengthAdjust="spacingAndGlyphs" stroke="#000" stroke-width="0.45">2</text>
<text x="521" y="642.8" font-size="11" font-weight="bold" textLength="27" lengthAdjust="spacingAndGlyphs" stroke="#000" stroke-width="0.45">C264</text>
<text x="465" y="658" font-size="6.5" font-weight="bold" textLength="36.7" lengthAdjust="spacingAndGlyphs" stroke="#000" stroke-width="0.3">BLU/RED</text>
<rect x="392.6" y="663.7" width="153.4" height="53.3" stroke="#000" stroke-width="2.5" fill="none" stroke-dasharray="11 4"/>
<text x="553.8" y="670.5" font-size="11" font-weight="bold" textLength="49.6" lengthAdjust="spacingAndGlyphs" stroke="#000" stroke-width="0.45">DRIVER'S</text>
<text x="553.8" y="681.3" font-size="11" font-weight="bold" textLength="57.4" lengthAdjust="spacingAndGlyphs" stroke="#000" stroke-width="0.45">SEAT BELT</text>
<text x="553.8" y="692.4" font-size="11" font-weight="bold" textLength="43" lengthAdjust="spacingAndGlyphs" stroke="#000" stroke-width="0.45">SWITCH</text>
<text x="553.8" y="703" font-size="10" font-weight="bold" textLength="73" lengthAdjust="spacingAndGlyphs" stroke="#000" stroke-width="0.45">Open with seat</text>
<text x="553.8" y="714.5" font-size="10" font-weight="bold" textLength="62.6" lengthAdjust="spacingAndGlyphs" stroke="#000" stroke-width="0.45">belt buckled.</text>
<line x1="408" y1="663" x2="408" y2="677.6" stroke="#000" stroke-width="1.9" stroke-linecap="butt"/>
<circle cx="408" cy="677.6" r="2.7" fill="#000"/>
<circle cx="430.7" cy="677.6" r="2.5" fill="#000"/>
<line x1="411" y1="677" x2="428" y2="677" stroke="#000" stroke-width="1.8" stroke-dasharray="4 3" stroke-linecap="butt"/>
<line x1="408" y1="677.6" x2="420.8" y2="697.4" stroke="#000" stroke-width="2.2" stroke-linecap="butt"/>
<circle cx="411.5" cy="684" r="2.2" fill="#000"/>
<circle cx="420.8" cy="697.4" r="2.6" fill="#000"/>
<line x1="508.8" y1="663" x2="508.8" y2="677.6" stroke="#000" stroke-width="1.9" stroke-linecap="butt"/>
<circle cx="508.8" cy="677.6" r="2.7" fill="#000"/>
<circle cx="531.5" cy="677.6" r="2.5" fill="#000"/>
<line x1="512" y1="677" x2="529" y2="677" stroke="#000" stroke-width="1.8" stroke-dasharray="4 3" stroke-linecap="butt"/>
<line x1="508.8" y1="677.6" x2="521.2" y2="697.4" stroke="#000" stroke-width="2.2" stroke-linecap="butt"/>
<circle cx="512.3" cy="684" r="2.2" fill="#000"/>
<circle cx="521.2" cy="697.4" r="2.6" fill="#000"/>
<line x1="416.5" y1="690.4" x2="517" y2="690.4" stroke="#000" stroke-width="1.9" stroke-dasharray="7 3" stroke-linecap="butt"/>
<line x1="521.2" y1="697.4" x2="521.2" y2="709.1" stroke="#000" stroke-width="1.9" stroke-linecap="butt"/>
<line x1="420.8" y1="709.1" x2="521.2" y2="709.1" stroke="#000" stroke-width="1.9" stroke-linecap="butt"/>
<line x1="420.8" y1="697.4" x2="420.8" y2="717" stroke="#000" stroke-width="1.9" stroke-linecap="butt"/>
<circle cx="420.8" cy="709.1" r="2.4" fill="#000"/>
<rect x="417.29999999999995" y="717" width="6.2" height="28" fill="#000"/>
<text x="396" y="735" font-size="6.5" font-weight="bold" textLength="15" lengthAdjust="spacingAndGlyphs" stroke="#000" stroke-width="0.3">BLK</text>
<path d="M417.09999999999997 742 Q417.09999999999997 744 414.0 745 Q420.2 753 426.4 745 Q423.3 744 423.3 742 Z" fill="#000"/>
<path d="M414.2 750.5 Q420.2 757.5 426.2 750.5 L427.09999999999997 752.9 Q423.3 754.3 423.3 758.0 L417.09999999999997 758.0 Q417.09999999999997 754.3 413.3 752.9 Z" fill="#000"/>
<text x="404" y="751.5" font-size="10" font-weight="bold" textLength="4.5" lengthAdjust="spacingAndGlyphs" stroke="#000" stroke-width="0.45">1</text>
<text x="432.5" y="752.7" font-size="11" font-weight="bold" textLength="27" lengthAdjust="spacingAndGlyphs" stroke="#000" stroke-width="0.45">C264</text>
<rect x="417.29999999999995" y="755" width="6.2" height="121.5" fill="#000"/>
<line x1="417.29999999999995" y1="783" x2="423.5" y2="783" stroke="#fff" stroke-width="0.8"/>
<line x1="417.29999999999995" y1="808" x2="423.5" y2="808" stroke="#fff" stroke-width="0.8"/>
<line x1="417.29999999999995" y1="824" x2="423.5" y2="824" stroke="#fff" stroke-width="0.8"/>
<text x="396" y="767.4" font-size="6.5" font-weight="bold" textLength="15" lengthAdjust="spacingAndGlyphs" stroke="#000" stroke-width="0.3">BLK</text>
<text x="433.3" y="788" font-size="10" font-weight="bold" textLength="59.5" lengthAdjust="spacingAndGlyphs" stroke="#000" stroke-width="0.45">See Ground</text>
<text x="433" y="798.6" font-size="10" font-weight="bold" textLength="59.5" lengthAdjust="spacingAndGlyphs" stroke="#000" stroke-width="0.45">Distribution,</text>
<text x="397" y="848" font-size="6.5" font-weight="bold" textLength="15" lengthAdjust="spacingAndGlyphs" stroke="#000" stroke-width="0.3">BLK</text>
<path d="M414 886 Q420.2 874 426.4 886 Z" fill="#000"/>
<line x1="413" y1="887.5" x2="427.6" y2="887.5" stroke="#000" stroke-width="1.9" stroke-linecap="butt"/>
<line x1="415.5" y1="890.5" x2="425" y2="890.5" stroke="#000" stroke-width="1.4" stroke-linecap="butt"/>
<line x1="418" y1="893.5" x2="422.5" y2="893.5" stroke="#000" stroke-width="1.2" stroke-linecap="butt"/>
<text x="436" y="885" font-size="11" font-weight="bold" textLength="27" lengthAdjust="spacingAndGlyphs" stroke="#000" stroke-width="0.45">G303</text>
<path d="M427 873 L436 864.5 L455.8 864.5 M460.7 864.5 L479 864.5 L479 832" stroke="#000" stroke-width="5.8" fill="none"/>
<path d="M473 821 L485 821 L479 831 Z" fill="#000"/>
<line x1="560" y1="989.5" x2="563" y2="989.5" stroke="#444" stroke-width="2"/>
<line x1="571" y1="989.5" x2="574" y2="989.5" stroke="#444" stroke-width="2"/>
<line x1="586" y1="989.5" x2="590" y2="989.5" stroke="#444" stroke-width="2"/>
<line x1="597.5" y1="989.5" x2="601" y2="989.5" stroke="#444" stroke-width="2"/>
<line x1="603" y1="989.5" x2="607" y2="989.5" stroke="#444" stroke-width="2"/>
<line x1="616" y1="989.5" x2="623" y2="989.5" stroke="#444" stroke-width="2"/>
<line x1="625" y1="989.5" x2="632" y2="989.5" stroke="#444" stroke-width="2"/>
<line x1="634" y1="989.5" x2="638" y2="989.5" stroke="#444" stroke-width="2"/>
<line x1="643" y1="989.5" x2="647" y2="989.5" stroke="#444" stroke-width="2"/>
<line x1="656" y1="989.5" x2="659" y2="989.5" stroke="#444" stroke-width="2"/>
<line x1="665" y1="989.5" x2="667" y2="989.5" stroke="#444" stroke-width="2"/>
<line x1="669" y1="989.5" x2="673.6" y2="989.5" stroke="#444" stroke-width="2"/>
<line x1="682.5" y1="989.5" x2="687" y2="989.5" stroke="#444" stroke-width="2"/>
<line x1="689" y1="989.5" x2="695.7" y2="989.5" stroke="#444" stroke-width="2"/>
<line x1="698" y1="989.5" x2="704.5" y2="989.5" stroke="#444" stroke-width="2"/>
<line x1="706.7" y1="989.5" x2="713" y2="989.5" stroke="#444" stroke-width="2"/>
<line x1="721" y1="989.5" x2="724" y2="989.5" stroke="#444" stroke-width="2"/>
</svg></body></html>
